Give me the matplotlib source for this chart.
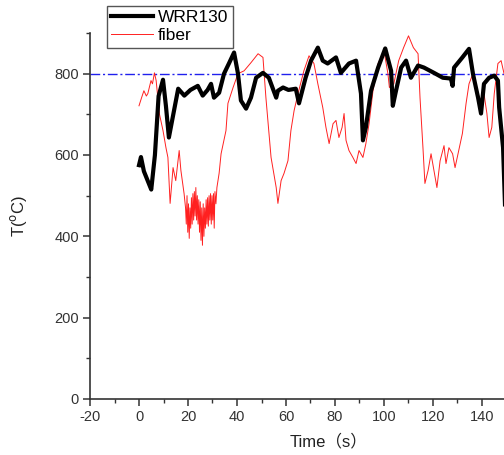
import matplotlib
matplotlib.use("Agg")
import matplotlib.pyplot as plt

plt.rcParams['font.family'] = ['Liberation Sans', 'Noto Sans CJK SC', 'DejaVu Sans']
plt.rcParams['axes.unicode_minus'] = False

# WRR130 thermocouple reading
wrr_t = [0, 0.8, 2, 3, 4, 5, 6.5, 8, 9.8, 11, 12.2, 14, 16, 18.5, 21, 24, 26, 28,
         29.4, 30.6, 32.7, 34.7, 36.7, 38.8, 40.4, 41.6, 43.7, 45.7, 47.8, 50.6, 53,
         56, 56.7, 58.8, 61, 64, 65.3, 68, 70.2, 73, 75, 77, 80.4, 82.4, 85.7, 88.6,
         90.6, 91.4, 92.6, 94.7, 97.6, 100.5, 102.9, 103.6, 104.9, 107, 109, 111,
         113.9, 116.3, 120.4, 124, 127.3, 128, 128.6, 132, 134.7, 136.3, 138.4,
         139.6, 140.8, 142.9, 145, 146.5, 147, 148.6, 150, 152]
wrr_T = [575, 595, 560, 545, 530, 515, 600, 745, 785, 720, 643, 700, 763, 746, 760,
         770, 746, 760, 775, 741, 753, 800, 825, 852, 800, 734, 714, 741, 790, 802,
         790, 741, 758, 766, 760, 763, 727, 790, 832, 864, 832, 825, 840, 802, 825,
         832, 751, 636, 668, 758, 815, 862, 807, 721, 758, 815, 832, 790, 820, 815,
         802, 790, 788, 770, 815, 840, 861, 800, 741, 702, 775, 790, 795, 783, 717,
         618, 370, 300]

# fiber sensor reading
fib_t = [0, 1, 2, 3, 3.6, 4.9, 5.5, 6.3, 7, 8.3, 9.8, 11, 11.8, 12.7, 13.9, 15,
         16.4, 17.1, 18.4,
         19.0, 19.3, 19.6, 19.9, 20.2, 20.5, 20.8, 21.1, 21.4, 21.7, 22.0, 22.3,
         22.6, 22.9, 23.2, 23.5, 23.8, 24.1, 24.4, 24.7, 25.0, 25.3, 25.6, 25.9,
         26.2, 26.5, 26.8, 27.1, 27.4, 27.7, 28.0, 28.3, 28.6, 28.9, 29.2, 29.5,
         29.8, 30.1, 30.4, 30.7, 31.0, 31.4, 31.8,
         32.7, 33.5, 35.5, 36.3, 38.4, 40.4, 42.9, 45.7, 48.6, 50.6, 51.8, 52.7,
         53.9, 56, 56.7, 58, 59.2, 60.8, 62, 63.3, 64.9, 67.3, 69.4, 71.4, 73, 75,
         76.3, 77.6, 79.2, 80.4, 81.6, 82.9, 83.7, 84.5, 85.7, 87.3, 88.6, 89.8,
         91.4, 92.6, 93.9, 95.5, 97.6, 100, 101.6, 102.2, 104, 106, 108, 110, 112,
         113.9, 114.7, 115.9, 116.7, 118, 119.2, 120.4, 121.6, 122.9, 124.5, 125.3,
         126.5, 128, 129, 130.2, 132, 133.5, 134.7, 136.3, 138.4, 139.6, 140.8, 142,
         142.9, 144, 145, 146.5, 147.8, 149, 151]
fib_T = [721, 740, 758, 745, 751, 783, 775, 802, 783, 702, 660, 618, 594, 481, 569,
         537, 611, 562, 505,
         470, 430, 500, 410, 480, 395, 470, 420, 495, 430, 505, 440, 510, 450, 520,
         440, 500, 430, 490, 410, 485, 390, 470, 378, 480, 400, 470, 420, 490, 430,
         495, 425, 500, 440, 505, 430, 500, 440, 505, 420, 510, 480, 520,
         555, 603, 660, 727, 766, 800, 807, 827, 849, 840, 741, 677, 594, 520, 481,
         537, 555, 586, 660, 709, 751, 807, 844, 825, 775, 717, 668, 628, 677, 685,
         643, 668, 702, 636, 611, 594, 579, 611, 594, 628, 677, 758, 825, 856, 800,
         766, 775, 832, 864, 893, 864, 849, 741, 618, 530, 562, 603, 562, 520, 586,
         623, 579, 618, 603, 569, 603, 653, 727, 775, 800, 751, 727, 751, 702, 643,
         668, 751, 825, 832, 800, 780]

target = 800

fig = plt.figure(figsize=(5.04, 4.55), dpi=100)
ax = fig.add_axes([90 / 504, 1 - 399 / 455, 477.75 / 504, 366 / 455])

ax.plot(fib_t, fib_T, color='#ff2020', lw=0.7, label='fiber', zorder=2)
ax.plot(wrr_t, wrr_T, color='black', lw=3.0, label='WRR130', zorder=3)
ax.axhline(target, color='#2020ee', lw=1.0, ls=(0, (7, 2, 1.5, 2)), zorder=1)

ax.set_xlim(-20, 175)
ax.set_ylim(0, 900)
ax.set_xticks(range(-20, 141, 20))
ax.set_xticks(range(-20, 151, 10), minor=True)
ax.set_yticks(range(0, 801, 200))
ax.set_yticks(range(0, 901, 100), minor=True)

for s in ['top', 'right']:
    ax.spines[s].set_visible(False)
for s in ['left', 'bottom']:
    ax.spines[s].set_color('#333333')
    ax.spines[s].set_linewidth(1.2)

ax.tick_params(which='major', direction='out', length=5, width=1.1,
               color='#333333', labelsize=10.5, labelcolor='#333333', pad=3)
ax.tick_params(which='minor', direction='out', length=3, width=1.0, color='#333333')

ax.set_xlabel('Time（s）', fontsize=12, color='#222222')
ax.xaxis.set_label_coords(0.5, -0.095)
ax.set_ylabel(r'T($^\mathrm{o}$C)', fontsize=12, color='#222222')
ax.yaxis.set_label_coords(-0.128, 0.5)

h, l = ax.get_legend_handles_labels()
leg = ax.legend(h[::-1], l[::-1], loc='upper left', bbox_to_anchor=(107 / 504, 1 - 6 / 455),
                bbox_transform=fig.transFigure, borderaxespad=0, fancybox=False,
                edgecolor='#555555', framealpha=1, fontsize=12.5, handlelength=2.4,
                handletextpad=0.3, borderpad=0.25, labelspacing=0.15)
leg.get_frame().set_linewidth(1.0)

fig.savefig('out.png', dpi=100)
